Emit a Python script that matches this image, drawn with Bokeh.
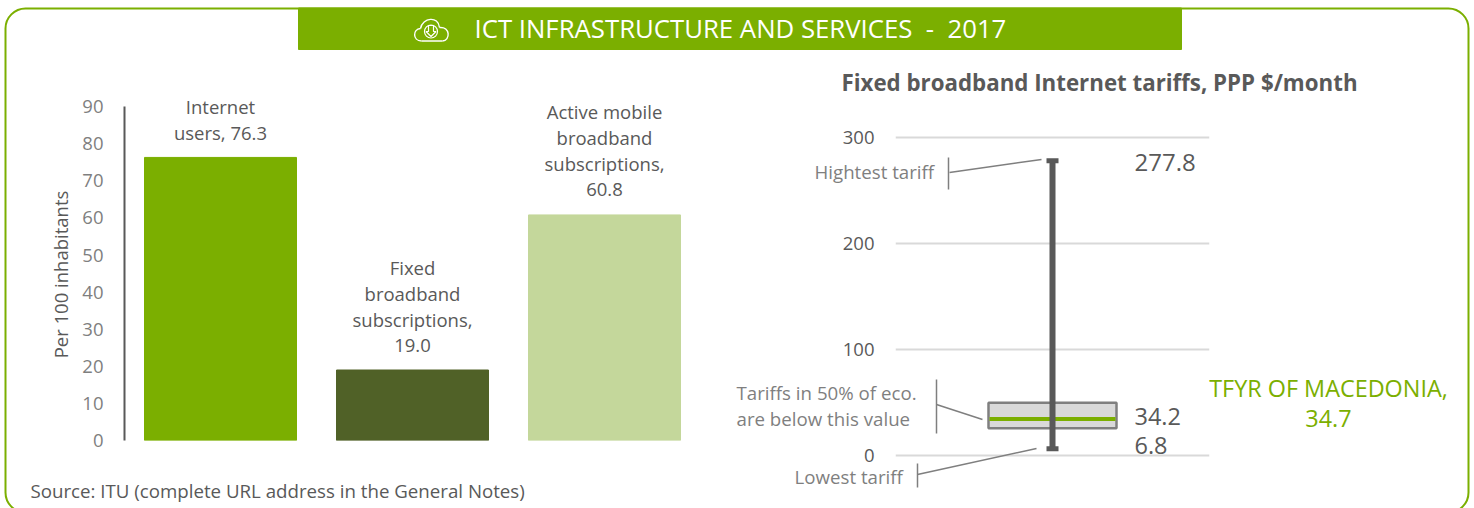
from bokeh.embed import file_html
from bokeh.resources import INLINE
from bokeh.plotting import figure
from bokeh.models import (ColumnDataSource, FactorRange, Range1d, FixedTicker, LabelSet, BoxAnnotation)
from bokeh.core.properties import value

# ---- data
categories = ["Internet users", "Fixed broadband subscriptions", "Active mobile broadband subscriptions"]
label_lines = [["Internet", "users, 76.3"],
               ["Fixed", "broadband", "subscriptions,", "19.0"],
               ["Active mobile", "broadband", "subscriptions,", "60.8"]]
per_100 = [76.3, 19.0, 60.8]
bar_colors = ["#7BAF00", "#506127", "#C4D79B"]
bar_ticks = [0, 10, 20, 30, 40, 50, 60, 70, 80, 90]

tariff_ticks = [0, 100, 200, 300]
tariff_low = 6.8
tariff_q1 = 26.0
tariff_median = 34.2
tariff_q3 = 50.0
tariff_high = 277.8
country_name = "TFYR OF MACEDONIA"
country_value = 34.7

GREEN = "#7BAF00"
DARK = "#595959"
GREY = "#7F7F7F"
FONT = "Open Sans"

def place(left_px, top_px):
    return {"position": "absolute", "left": f"{left_px}px", "top": f"{top_px}px"}

# ---- left: bars
src = ColumnDataSource(dict(cat=categories, val=per_100, color=bar_colors))
lab_x, lab_y, lab_t, lab_off = [], [], [], []
for c, v, lines in zip(categories, per_100, label_lines):
    for i, t in enumerate(reversed(lines)):
        lab_x.append(c); lab_y.append(v); lab_t.append(t); lab_off.append(25 + 26 * i)
lab_src = ColumnDataSource(dict(x=lab_x, y=lab_y, t=lab_t, off=lab_off))

left = figure(width=720, height=508, x_range=FactorRange(factors=categories), y_range=Range1d(0, 100),
              output_backend="svg", toolbar_location=None, outline_line_color=None,
              min_border_left=124, min_border_right=20, min_border_top=69, min_border_bottom=68,
              styles=place(0, 0))
left.vbar(x="cat", top="val", bottom=0, width=152 / 192, color="color", source=src)
left.xaxis.visible = False
left.grid.visible = False
yax = left.yaxis[0]
yax.ticker = FixedTicker(ticks=bar_ticks)
yax.bounds = (0, 90)
yax.major_tick_line_color = None
yax.minor_tick_line_color = None
yax.axis_line_color = DARK
yax.axis_line_width = 2
yax.major_label_standoff = 15
yax.major_label_text_color = GREY
yax.major_label_text_font = FONT
yax.major_label_text_font_size = "18.5px"
left.add_layout(LabelSet(x="x", y="y", text="t", y_offset="off", source=lab_src, text_align="center",
                         text_baseline="middle", text_font=value(FONT), text_font_size="18.5px",
                         text_color=DARK))

# ---- right: tariff box plot
right = figure(width=754, height=508, x_range=Range1d(0, 1), y_range=Range1d(-10, 310),
               output_backend="svg", toolbar_location=None, outline_line_color=None,
               min_border_left=175, min_border_right=265, min_border_top=126, min_border_bottom=42,
               styles=place(720, 0))
right.xaxis.visible = False
right.xgrid.visible = False
rax = right.yaxis[0]
rax.ticker = FixedTicker(ticks=tariff_ticks)
rax.major_tick_line_color = None
rax.minor_tick_line_color = None
rax.axis_line_color = None
rax.major_label_standoff = 15
rax.major_label_text_color = DARK
rax.major_label_text_font = FONT
rax.major_label_text_font_size = "18.5px"
right.ygrid.ticker = FixedTicker(ticks=tariff_ticks)
right.ygrid.grid_line_color = "#D9D9D9"
right.ygrid.grid_line_width = 2

right.quad(left=[0.5 - 64 / 314], right=[0.5 + 64 / 314], bottom=[tariff_q1], top=[tariff_q3],
           fill_color="#D9D9D9", line_color=GREY, line_width=2.5)
right.segment([0.5 - 63 / 314], [country_value], [0.5 + 63 / 314], [country_value], line_color=GREEN, line_width=4)
right.segment([0.5], [tariff_low], [0.5], [tariff_high], line_color=DARK, line_width=6)
right.segment([0.5 - 6 / 314, 0.5 - 6 / 314], [tariff_low, tariff_high], [0.5 + 6 / 314, 0.5 + 6 / 314],
              [tariff_low, tariff_high], line_color=DARK, line_width=5)

# ---- transparent page-sized layer: frame, header, source, callouts, value labels
top = figure(width=1474, height=508, x_range=Range1d(0, 1474), y_range=Range1d(508, 0),
             output_backend="svg", toolbar_location=None, min_border=0, outline_line_color=None,
             background_fill_color=None, border_fill_color=None, styles=place(0, 0))
top.axis.visible = False
top.grid.visible = False
top.add_layout(BoxAnnotation(left=5, right=1468, top=8, bottom=512, fill_alpha=0, line_color=GREEN, line_alpha=1,
                             line_width=2, border_radius=20))
top.quad(left=[298], right=[1181], top=[7.5], bottom=[49], color=GREEN)
top.bezier(x0=[421, 420, 439], y0=[40.5, 28, 27], x1=[420, 439, 442], y1=[28, 27, 40.5],
           cx0=[412, 422, 450], cy0=[40, 17, 26], cx1=[412, 438, 450], cy1=[29, 15, 40],
           line_color="white", line_width=1.4)
top.line([421, 442], [40.5, 40.5], line_color="white", line_width=1.4)
top.scatter([430.5], [31], size=13, fill_alpha=0, line_color="white", line_width=1.2)
top.line([428, 428, 425.5, 430.5, 435.5, 433, 433, 428], [25, 31, 31, 36, 31, 31, 25, 25],
         line_color="white", line_width=1.2)

def add_text(x, y, text, size, color=DARK, align="left", style="normal", angle=0.0):
    top.text([x], [y], text=[text], text_font=value(FONT), text_font_size=size, text_color=color,
             text_align=align, text_baseline="middle", text_font_style=style, angle=angle)

add_text(474, 27.5, "ICT INFRASTRUCTURE AND SERVICES\u00a0\u00a0-\u00a0\u00a02017", "25.75px", color="white")
add_text(60, 274, "Per 100 inhabitants", "18.5px", align="center", angle=1.5708)
add_text(30, 490, "Source: ITU (complete URL address in the General Notes)", "18.7px")
add_text(1099, 81.5, "Fixed broadband Internet tariffs, PPP $/month", "22.3px", align="center", style="bold")
add_text(1134, 162, f"{tariff_high}", "24px")
add_text(1134, 416, f"{tariff_median}", "23.5px")
add_text(1134, 445, f"{tariff_low}", "23.5px")
add_text(1328, 387, f"{country_name},", "23.4px", color=GREEN, align="center")
add_text(1328, 418, f"{country_value}", "23.4px", color=GREEN, align="center")
add_text(814, 170.5, "Hightest tariff", "18.7px", color=GREY)
add_text(736, 391.5, "Tariffs in 50% of eco.", "18.7px", color=GREY)
add_text(736, 417.5, "are below this value", "18.7px", color=GREY)
add_text(794, 475.5, "Lowest tariff", "18.7px", color=GREY)
top.multi_line(xs=[[948, 948], [949, 1041], [936, 936], [936, 982], [917, 917], [917, 1036]],
               ys=[[157, 189], [172, 159], [379, 433], [404, 419], [463, 487], [474, 448]],
               line_color=GREY, line_width=1.5)

open("out.html", "w").write(file_html([left, right, top], INLINE))
